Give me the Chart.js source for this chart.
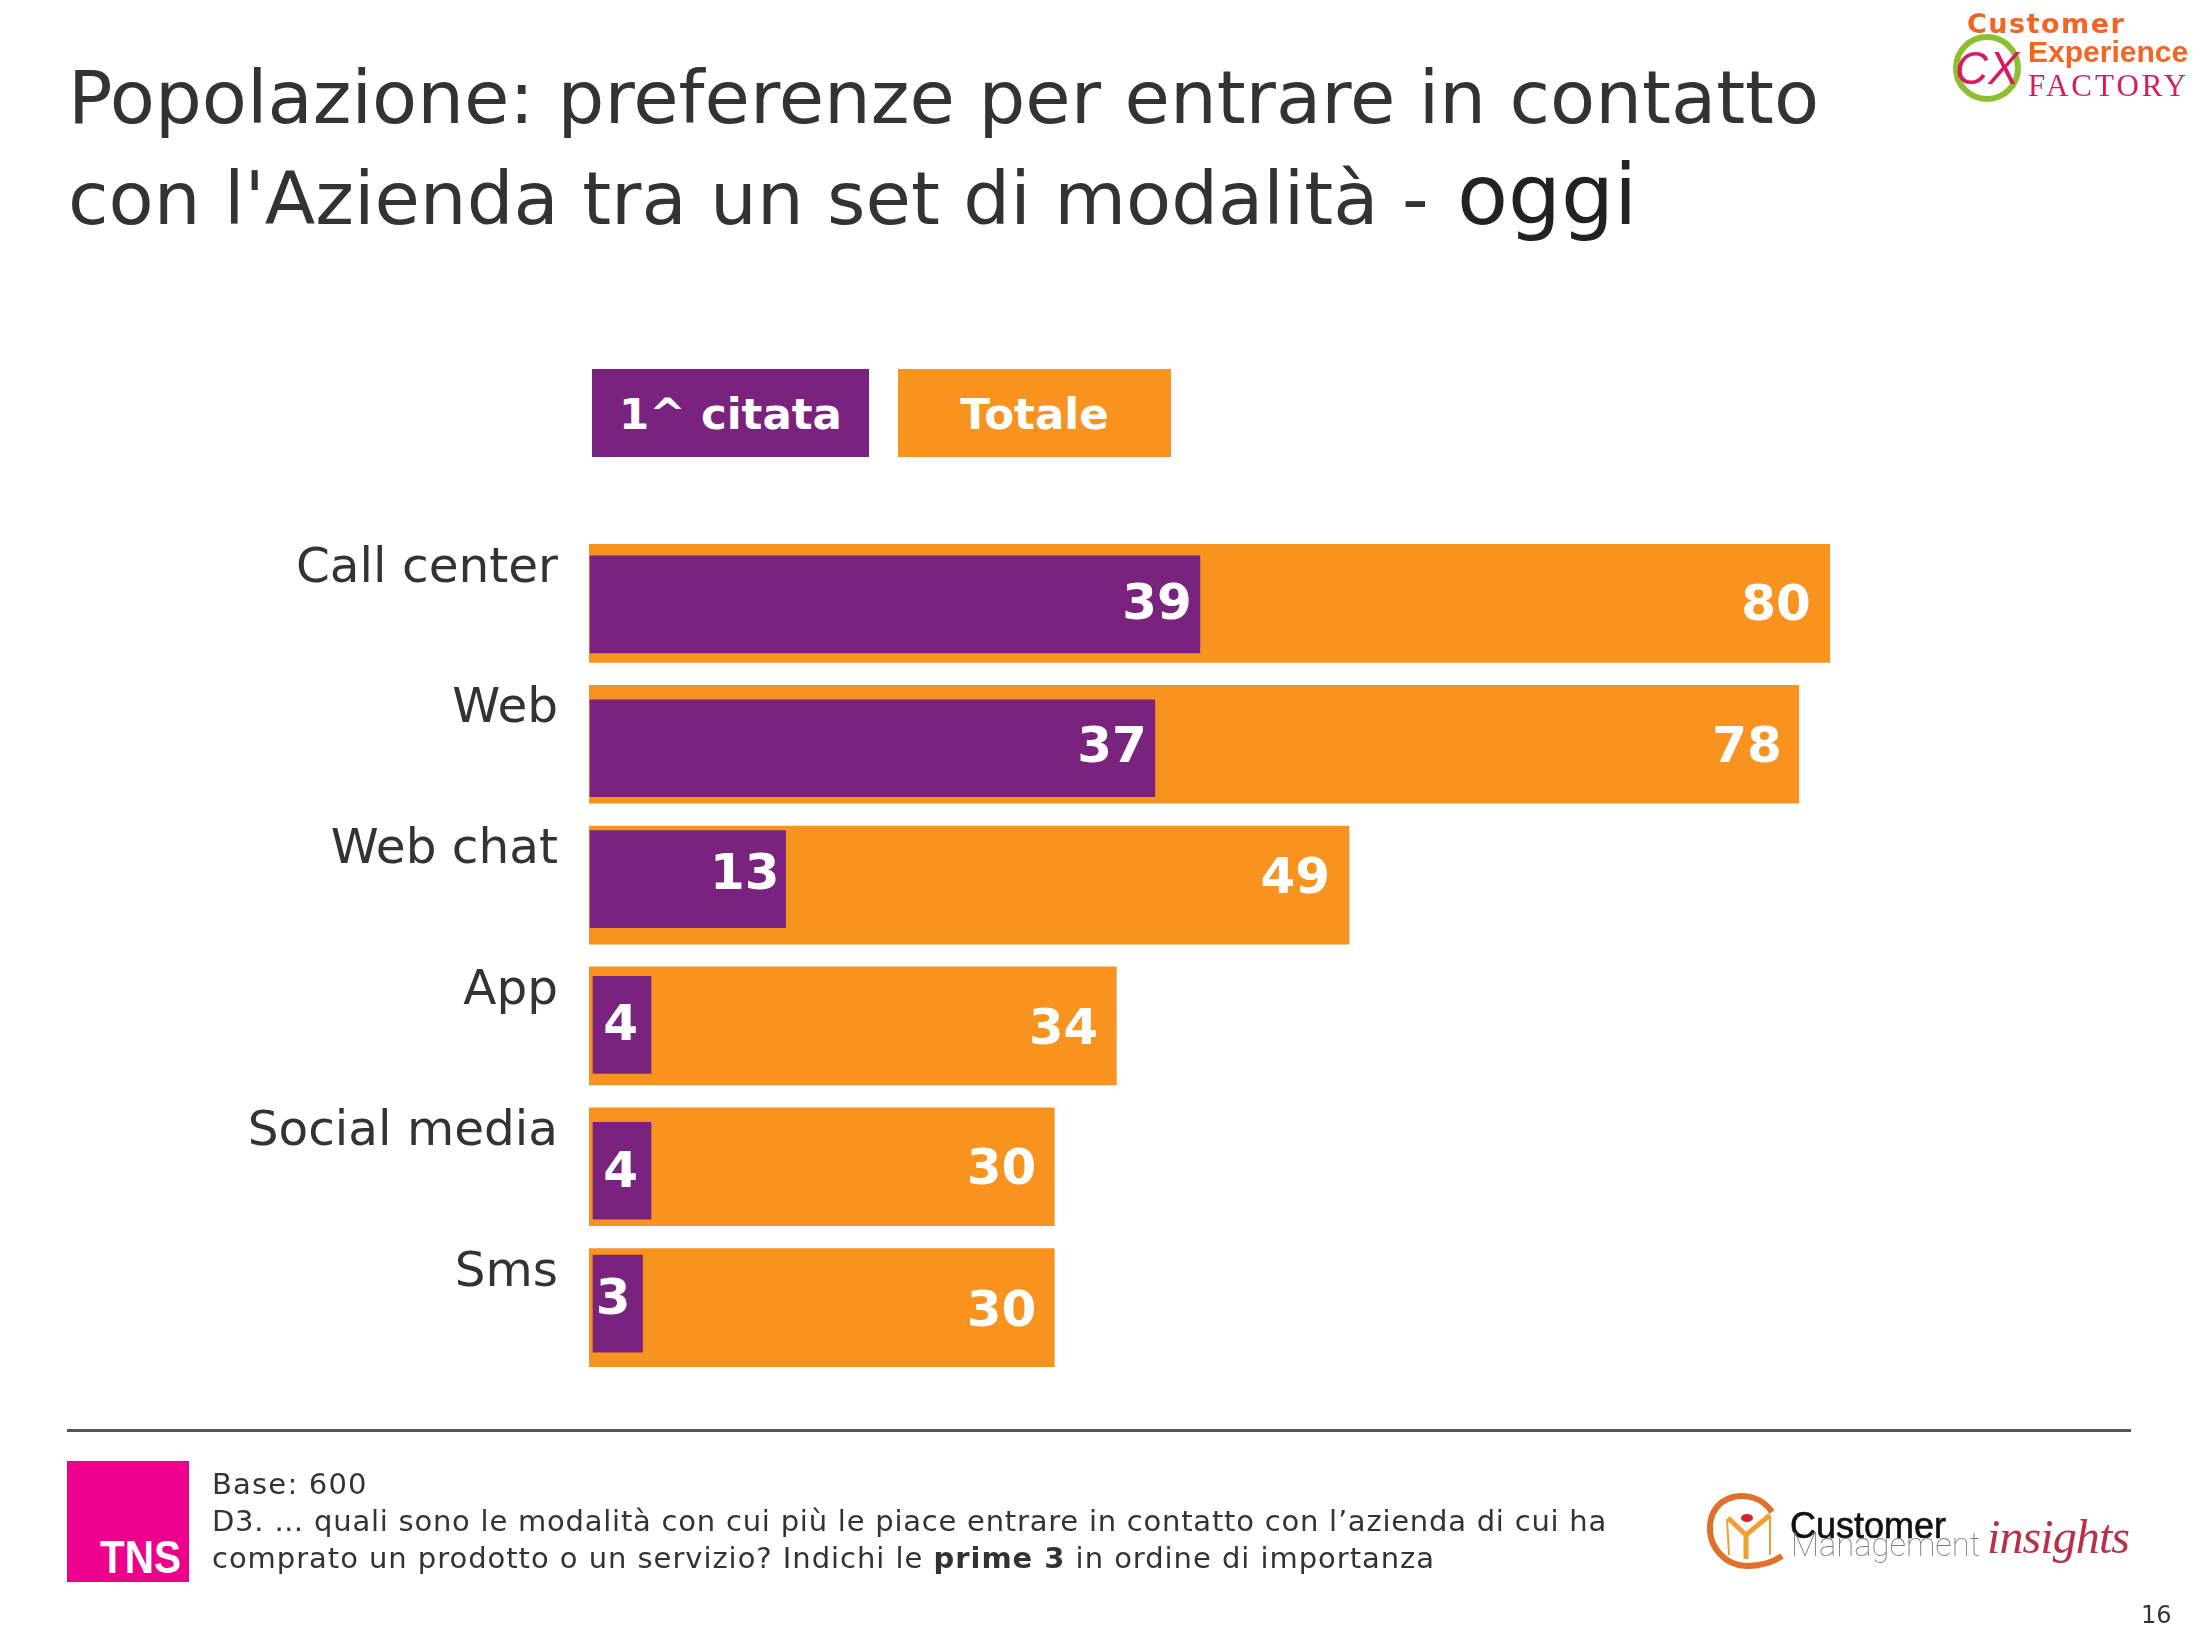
<!DOCTYPE html>
<html>
<head>
<meta charset="utf-8">
<script src="https://cdn.jsdelivr.net/npm/chart.js@4"></script>
<style>
  html, body { margin: 0; background: #fff; }
  #page { position: relative; width: 2200px; height: 1650px; overflow: hidden; font-family: "DejaVu Sans", sans-serif; color: #333; }
  #page > * { position: absolute; }
  canvas { left: 0; top: 0; }
  .title { left: 68px; font-size: 73.8px; line-height: 100px; white-space: nowrap; color: #333; }
  .title span { font-size: 83.5px; color: #222; margin-left: 5px; }
  .legendBox { top: 369px; height: 88px; line-height: 90px; text-align: center; color: #fff; font-weight: bold; font-size: 43.5px; }
  .rule { left: 67px; top: 1429px; width: 2064px; height: 3px; background: #555; }
  .tns { left: 67px; top: 1461px; width: 122px; height: 121px; background: #ec008c; }
  .note { left: 212px; font-size: 29px; line-height: 37px; top: 1466px; white-space: nowrap; color: #333; letter-spacing: 0.77px; }
  .pageNo { left: 2141px; top: 1601px; font-size: 24px; color: #333; }
</style>
</head>
<body>
<div id="page">
  <canvas id="barChart" width="2200" height="1650"></canvas>
  <div class="title" style="top:47px">Popolazione: preferenze per entrare in contatto</div>
  <div class="title" style="top:145px">con l'Azienda tra un set di modalità - <span>oggi</span></div>
  <div id="legend"></div>
  <div class="rule"></div>
  <svg class="tns" width="122" height="121">
    <text x="33" y="112" font-family="Liberation Sans" font-weight="bold" font-size="46" fill="#fff" textLength="81" lengthAdjust="spacingAndGlyphs">TNS</text>
  </svg>
  <div class="note"><span style="letter-spacing:1.2px">Base: 600</span><br>D3. … quali sono le modalità con cui più le piace entrare in contatto con l’azienda di cui ha<br><span style="letter-spacing:0.96px">comprato un prodotto o un servizio? Indichi le <b>prime 3</b> in ordine di importanza</span></div>
  <div class="pageNo">16</div>

  <svg style="left:1950px;top:0" width="250" height="115">
    <text x="17" y="33" font-family="DejaVu Sans" font-weight="bold" font-size="27" letter-spacing="1.5" fill="#f26522">Customer</text>
    <text x="78" y="62" font-family="Liberation Sans" font-weight="bold" font-size="30" fill="#f26522">Experience</text>
    <text x="78" y="96" font-family="Liberation Serif" font-size="31" letter-spacing="3" fill="#d81b60">FACTORY</text>
    <circle cx="37" cy="68" r="31" fill="none" stroke="#8dbf2e" stroke-width="6"/>
    <text x="37" y="84" text-anchor="middle" font-family="Liberation Sans" font-style="italic" font-size="46" fill="#d81b60">CX</text>
  </svg>

  <svg style="left:1700px;top:1485px" width="440" height="95">
    <path d="M72 27 C62 12 45 9 33 12 C15 17 9 32 10 46 C11 62 24 80 46 81 C60 81 72 78 82 71" fill="none" stroke="#e0702a" stroke-width="6"/>
    <ellipse cx="47" cy="33" rx="6" ry="4" fill="#d2232a"/>
    <path d="M28 33 L46 50 L70 30 M46 50 V74" fill="none" stroke="#f0a030" stroke-width="5"/>
    <path d="M27 34 L29 70 M70 31 V70" fill="none" stroke="#f0a030" stroke-width="2"/>
    <text x="90" y="53" font-family="Liberation Sans" font-size="36" stroke="#111" stroke-width="0.6" fill="#111" textLength="156" lengthAdjust="spacingAndGlyphs">Customer</text>
    <text x="91" y="71" font-family="Roboto" font-weight="100" font-size="33" fill="#777" textLength="189" lengthAdjust="spacingAndGlyphs">Management</text>
    <text x="287" y="68" font-family="Liberation Serif" font-style="italic" font-size="48" fill="#b8304a" textLength="143">insights</text>
  </svg>
</div>

<script>
var categories = ['Call center', 'Web', 'Web chat', 'App', 'Social media', 'Sms'];
var seriesNames = ['1^ citata', 'Totale'];
var firstCited = [39, 37, 13, 4, 4, 3];
var total = [80, 78, 49, 34, 30, 30];

var purple = '#7a237e';
var orange = '#f8931f';

// the inner bars sit a bit crooked in the slide, px nudges per row
var innerShiftY = [1, 4, -6, -1, 4, -4];
var innerInset = [1, 1, 1, 4, 4, 4];
var innerEndShift = [6, -8, -5, 0, 0, 7];
var labelShiftY = [[2, 1, -3, 2, 3, -3], [4, 5, -5, 5, 4, 5]];
var labelInset = [[8, 8, 6, 13, 13, 12], [19, 17, 19, 18, 18, 18]];

var nudgeInner = {
  id: 'nudgeInner',
  afterDatasetsUpdate: function(chart) {
    chart.getDatasetMeta(0).data.forEach(function(bar, i) {
      bar.y += innerShiftY[i];
      bar.base += innerInset[i];
      bar.x += innerEndShift[i];
    });
  }
};

var valueLabels = {
  id: 'valueLabels',
  afterDatasetsDraw: function(chart) {
    var ctx = chart.ctx;
    ctx.save();
    ctx.font = 'bold 50px "DejaVu Sans"';
    ctx.fillStyle = '#fff';
    ctx.textAlign = 'right';
    ctx.textBaseline = 'middle';
    [0, 1].forEach(function(d) {
      chart.getDatasetMeta(d).data.forEach(function(bar, i) {
        ctx.fillText(chart.data.datasets[d].data[i], bar.x - labelInset[d][i], bar.y + labelShiftY[d][i]);
      });
    });
    ctx.restore();
  }
};

function makeLegend() {
  var boxes = [{ left: 592, width: 277, color: purple }, { left: 898, width: 273, color: orange }];
  var legend = document.getElementById('legend');
  seriesNames.forEach(function(name, i) {
    var el = document.createElement('div');
    el.className = 'legendBox';
    el.style.position = 'absolute';
    el.style.left = boxes[i].left + 'px';
    el.style.width = boxes[i].width + 'px';
    el.style.background = boxes[i].color;
    el.textContent = name;
    legend.appendChild(el);
  });
}

function renderChart() {
  var context = document.getElementById('barChart').getContext('2d');
  new Chart(context, {
    type: 'bar',
    data: {
      // an empty second line lifts each label above the middle of its bar
      labels: categories.map(function(c) { return [c, '']; }),
      datasets: [
        { label: seriesNames[0], data: firstCited, backgroundColor: purple, barThickness: 97, grouped: false },
        { label: seriesNames[1], data: total, backgroundColor: orange, barThickness: 118, grouped: false }
      ]
    },
    options: {
      indexAxis: 'y',
      responsive: false,
      devicePixelRatio: 1,
      animation: false,
      layout: { padding: { top: 533, bottom: 272, right: 60, left: 0 } },
      plugins: { legend: { display: false }, tooltip: { enabled: false } },
      scales: {
        x: { display: false, min: 0, max: 100 },
        y: {
          afterFit: function(scale) { scale.width = 589; },
          border: { display: false },
          grid: { display: false, drawTicks: false },
          ticks: { autoSkip: false, padding: 31, color: '#333', font: { family: '"DejaVu Sans"', size: 48.5, lineHeight: 1.42 } }
        }
      }
    },
    plugins: [nudgeInner, valueLabels]
  });
}

makeLegend();
renderChart();
</script>
</body>
</html>
